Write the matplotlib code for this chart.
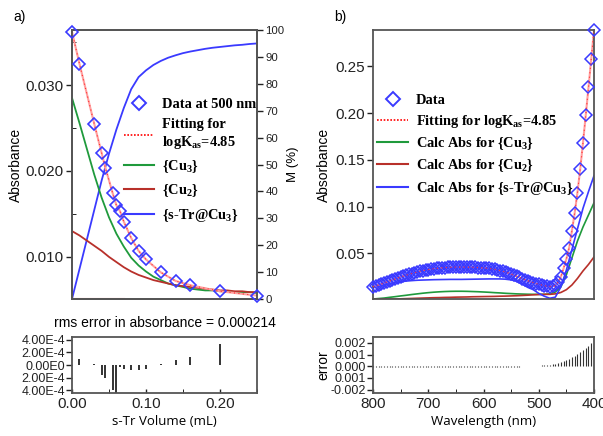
import numpy as np
import matplotlib
matplotlib.use("Agg")
import matplotlib.pyplot as plt
from matplotlib.lines import Line2D
from matplotlib.ticker import MultipleLocator, FixedLocator, FixedFormatter

# === Fonts ===
plt.rcParams['font.family'] = ['Liberation Sans', 'DejaVu Sans']
plt.rcParams['mathtext.fontset'] = 'custom'
plt.rcParams['mathtext.rm'] = 'Liberation Serif:bold'
plt.rcParams['mathtext.it'] = 'Liberation Serif:bold'
plt.rcParams['mathtext.bf'] = 'Liberation Serif:bold'

# === Titration data (panel a) ===
vol = [0.00, 0.01, 0.03, 0.04, 0.045, 0.055, 0.06, 0.065, 0.07, 0.08,
       0.09, 0.10, 0.12, 0.14, 0.16, 0.20, 0.25]
abs500 = [0.0362, 0.0325, 0.0255, 0.0221, 0.0204, 0.0174, 0.0160, 0.0153,
          0.0141, 0.0122, 0.0107, 0.0097, 0.0082, 0.0072, 0.0067, 0.0060, 0.0055]
resid500 = [0.0, 0.9e-4, 0.2e-4, -1.5e-4, -2.1e-4, -3.9e-4, -4.4e-4, -0.3e-4,
            -0.7e-4, -0.8e-4, -0.8e-4, -0.7e-4, 0.1e-4, 0.8e-4, 1.2e-4, 3.3e-4, 0.0]

vol_calc = [0.00, 0.01, 0.02, 0.03, 0.04, 0.05, 0.06, 0.07, 0.08, 0.09, 0.10,
            0.11, 0.12, 0.13, 0.14, 0.15, 0.16, 0.17, 0.18, 0.19, 0.20,
            0.21, 0.22, 0.23, 0.24, 0.25]
abs_cu3 = [0.0285, 0.0256, 0.0226, 0.0196, 0.0169, 0.0146, 0.0127, 0.0112,
           0.0099, 0.0090, 0.0083, 0.0077, 0.0073, 0.0069, 0.0067, 0.0065,
           0.0063, 0.0062, 0.0061, 0.0061, 0.0060, 0.0060, 0.0059, 0.0059,
           0.0059, 0.0058]
abs_cu2 = [0.0130, 0.0125, 0.0119, 0.0113, 0.0107, 0.0100, 0.0094, 0.0088,
           0.0083, 0.0079, 0.0076, 0.0073, 0.0071, 0.0069, 0.0067, 0.0066,
           0.0065, 0.0064, 0.0063, 0.0062, 0.0061, 0.0061, 0.0060, 0.0060,
           0.0059, 0.0059]
pct_complex = [0, 11, 22, 33, 44, 54, 63, 71, 78, 82.5, 85, 87, 88.5, 89.7,
               90.6, 91.4, 92, 92.5, 93, 93.4, 93.7, 94, 94.3, 94.5, 94.8, 95]
vol_free = [0.00, 0.07]
pct_free = [0, 0]

# === Spectral data (panel b), 800 -> 400 nm ===
wl = list(range(800, 395, -5))
abs_spec = [0.0142, 0.0150, 0.0160, 0.0170, 0.0181, 0.0192, 0.0203, 0.0214,
            0.0225, 0.0235, 0.0245, 0.0255, 0.0265, 0.0274, 0.0283, 0.0291,
            0.0299, 0.0306, 0.0313, 0.0319, 0.0325, 0.0330, 0.0334, 0.0338,
            0.0341, 0.0344, 0.0346, 0.0348, 0.0349, 0.0350, 0.0351, 0.0351,
            0.0351, 0.0351, 0.0350, 0.0350, 0.0349, 0.0348, 0.0347, 0.0345,
            0.0343, 0.0340, 0.0337, 0.0333, 0.0328, 0.0322, 0.0315, 0.0307,
            0.0298, 0.0288, 0.0277, 0.0265, 0.0253, 0.0241, 0.0229, 0.0217,
            0.0206, 0.0195, 0.0185, 0.0176, 0.0168, 0.0160, 0.0153, 0.0147,
            0.0143, 0.0145, 0.0155, 0.0190, 0.0246, 0.0340, 0.0440, 0.0560,
            0.0740, 0.0930, 0.1150, 0.1400, 0.1680, 0.1975, 0.2275, 0.2580,
            0.2890]
resid_spec = [-0.00005, -0.00006, -0.00004, -0.00007, -0.00005, -0.00006,
              -0.00004, -0.00005, -0.00006, -0.00004, -0.00005, -0.00006,
              -0.00005, -0.00004, -0.00006, -0.00005, -0.00004, -0.00005,
              -0.00006, -0.00004, -0.00005, -0.00006, -0.00004, -0.00005,
              -0.00006, -0.00005, -0.00004, -0.00006, -0.00005, -0.00004,
              -0.00005, -0.00006, -0.00007, -0.00006, -0.00005, -0.00006,
              -0.00007, -0.00006, -0.00005, -0.00006, -0.00007, -0.00006,
              -0.00005, -0.00006, -0.00005, -0.00004, -0.00005, -0.00004,
              -0.00004, -0.00004, -0.00003, -0.00003, -0.00003, -0.00003,
              -0.00002, -0.00002, -0.00002, 0.00002, 0.00002, 0.00003,
              0.00004, 0.00006, 0.00008, 0.00010, 0.00013, 0.00017,
              0.00022, 0.00028, 0.00035, 0.00044, 0.00053, 0.00064,
              0.00076, 0.00090, 0.00105, 0.00120, 0.00137, 0.00155,
              0.00175, 0.00195, 0.00215]

wl_calc = list(range(800, 395, -10))
calc_cu3 = [0.0010, 0.0015, 0.0020, 0.0028, 0.0035, 0.0043, 0.0050, 0.0058,
            0.0065, 0.0072, 0.0078, 0.0083, 0.0087, 0.0090, 0.0092, 0.0093,
            0.0093, 0.0092, 0.0090, 0.0088, 0.0085, 0.0082, 0.0078, 0.0075,
            0.0071, 0.0068, 0.0065, 0.0063, 0.0061, 0.0060, 0.0060, 0.0060,
            0.0065, 0.0085, 0.0140, 0.0270, 0.0450, 0.0630, 0.0780, 0.0910,
            0.1040]
calc_cu2 = [0.0005, 0.0006, 0.0008, 0.0009, 0.0010, 0.0012, 0.0014, 0.0016,
            0.0018, 0.0020, 0.0022, 0.0024, 0.0025, 0.0027, 0.0028, 0.0030,
            0.0031, 0.0032, 0.0034, 0.0035, 0.0036, 0.0037, 0.0038, 0.0040,
            0.0041, 0.0043, 0.0045, 0.0048, 0.0051, 0.0055, 0.0058, 0.0060,
            0.0060, 0.0065, 0.0080, 0.0110, 0.0160, 0.0230, 0.0310, 0.0380,
            0.0460]
calc_str = [0.0130, 0.0145, 0.0160, 0.0173, 0.0185, 0.0195, 0.0202, 0.0207,
            0.0211, 0.0213, 0.0215, 0.0217, 0.0218, 0.0219, 0.0220, 0.0220,
            0.0220, 0.0221, 0.0222, 0.0223, 0.0224, 0.0225, 0.0225, 0.0225,
            0.0222, 0.0215, 0.0200, 0.0170, 0.0135, 0.0110, 0.0070, 0.0040,
            0.0018, 0.0030, 0.0140, 0.0320, 0.0540, 0.0760, 0.0980, 0.1160,
            0.1330]

# === Styles ===
C_DATA = '#3a3aff'
C_FIT = '#ffa0a0'
C_CU3 = '#1f9a3c'
C_CU2 = '#b8302a'
C_STR = '#3a3aff'
C_FRAME = '#555555'
SERIF = 'Liberation Serif'
LEG_FONT = {'family': SERIF, 'weight': 'bold', 'size': 10.4}


def style_frame(ax):
    for s in ax.spines.values():
        s.set_color(C_FRAME)
        s.set_linewidth(1.3)
    ax.tick_params(colors='#222222', width=1.0)


def draw_resid(ax, x, r, lw):
    ax.vlines(x, 0, r, colors='#333333', linewidth=lw)


def legend_handles():
    return [
        Line2D([], [], ls='none', marker='D', ms=7.5, mfc='none', mec=C_DATA, mew=1.4),
        Line2D([], [], color='red', lw=1.2, ls=(0, (1, 1))),
        Line2D([], [], color=C_CU3, lw=1.5),
        Line2D([], [], color=C_CU2, lw=1.5),
        Line2D([], [], color=C_STR, lw=1.5),
    ]


fig = plt.figure(figsize=(6.03, 4.36), dpi=100)

# ---------------- panel a ----------------
axa = fig.add_axes([0.1194, 0.3142, 0.3068, 0.6170])
axa2 = axa.twinx()
axa.set_zorder(axa2.get_zorder() + 1)
axa.patch.set_visible(False)

axa2.plot(vol_calc, pct_complex, color=C_STR, lw=1.3)
axa2.plot(vol_free, pct_free, color='#ff6060', lw=1.5)
axa2.set_ylim(0, 100)
axa2.yaxis.set_major_locator(MultipleLocator(10))
axa2.tick_params(axis='y', labelsize=8.2, length=4, pad=2)
axa2.set_ylabel('M (%)', fontsize=9.5, labelpad=2)

axa.plot(vol_calc, abs_cu3, color=C_CU3, lw=1.3)
axa.plot(vol_calc, abs_cu2, color=C_CU2, lw=1.3)
axa.plot(vol, abs500, color=C_FIT, lw=1.5)
axa.plot(vol, abs500, color='#ff3030', lw=0.8, ls=(0, (1, 3)))
axa.plot(vol, abs500, ls='none', marker='D', ms=6.3, mfc='none',
         mec=C_DATA, mew=1.2, clip_on=False, zorder=5)
axa.set_xlim(0, 0.25)
axa.set_ylim(0.0051, 0.0364)
axa.yaxis.set_major_locator(FixedLocator([0.010, 0.020, 0.030]))
axa.yaxis.set_major_formatter(FixedFormatter(['0.010', '0.020', '0.030']))
axa.yaxis.set_minor_locator(FixedLocator([0.015, 0.025, 0.035]))
axa.tick_params(axis='y', which='major', labelsize=11, length=4, pad=2)
axa.tick_params(axis='y', which='minor', length=3, direction='in')
axa.set_xticks([])
axa.set_ylabel('Absorbance', fontsize=10, labelpad=2)
style_frame(axa)
style_frame(axa2)

lab_a = ['Data at 500 nm', 'Fitting for\nlogK$_{as}$=4.85',
         '{Cu$_3$}', '{Cu$_2$}', '{s-Tr@Cu$_3$}']
axa.legend(legend_handles(), lab_a, loc='upper left', bbox_to_anchor=(0.28, 0.748),
           frameon=False, handlelength=2.1, handletextpad=0.55,
           labelspacing=0.52, borderpad=0, borderaxespad=0, prop=LEG_FONT)

fig.text(0.022, 0.962, 'a)', fontsize=10, va='center')

# residuals a
axr = fig.add_axes([0.1194, 0.0986, 0.3068, 0.1284])
draw_resid(axr, vol, resid500, 1.4)
axr.set_xlim(0, 0.25)
axr.set_ylim(-4.4e-4, 4.4e-4)
axr.yaxis.set_major_locator(FixedLocator([4e-4, 2e-4, 0, -2e-4, -4e-4]))
axr.yaxis.set_major_formatter(FixedFormatter(
    ['4.00E-4', '2.00E-4', '0.00E0', '2.00E-4', '4.00E-4']))
axr.xaxis.set_major_locator(FixedLocator([0.0, 0.1, 0.2]))
axr.xaxis.set_major_formatter(FixedFormatter(['0.00', '0.10', '0.20']))
axr.xaxis.set_minor_locator(FixedLocator([0.05, 0.15, 0.25]))
axr.tick_params(axis='y', labelsize=9, length=4, pad=1)
axr.tick_params(axis='x', which='both', direction='in', labelsize=11, length=3, pad=3)
axr.set_xlabel('s-Tr Volume (mL)', family='Open Sans', fontsize=9.5, labelpad=3)
axr.set_title('rms error in absorbance = 0.000214', fontsize=10, pad=7)
style_frame(axr)

# ---------------- panel b ----------------
axb = fig.add_axes([0.6186, 0.3142, 0.3665, 0.6170])
axb.plot(wl_calc, calc_cu3, color=C_CU3, lw=1.2)
axb.plot(wl_calc, calc_cu2, color=C_CU2, lw=1.2)
axb.plot(wl_calc, calc_str, color=C_STR, lw=1.2)
axb.plot(wl, abs_spec, color=C_FIT, lw=1.5)
axb.plot(wl, abs_spec, ls='none', marker='D', ms=6.0, mfc='none',
         mec=C_DATA, mew=1.1, clip_on=False, zorder=5)
axb.plot(wl, abs_spec, color='#ff3030', lw=0.8, ls=(0, (1, 3)), zorder=6)
axb.set_xlim(800, 400)
axb.set_ylim(0.001, 0.289)
axb.yaxis.set_major_locator(FixedLocator([0.05, 0.10, 0.15, 0.20, 0.25]))
axb.yaxis.set_major_formatter(FixedFormatter(['0.05', '0.10', '0.15', '0.20', '0.25']))
axb.tick_params(axis='y', labelsize=11, length=4, pad=2)
axb.set_xticks([])
axb.set_ylabel('Absorbance', fontsize=10, labelpad=3)
style_frame(axb)

lab_b = ['Data', 'Fitting for logK$_{as}$=4.85', 'Calc Abs for {Cu$_3$}',
         'Calc Abs for {Cu$_2$}', 'Calc Abs for {s-Tr@Cu$_3$}']
axb.legend(legend_handles(), lab_b, loc='upper left', bbox_to_anchor=(0.02, 0.762),
           frameon=False, handlelength=2.1, handletextpad=0.55,
           labelspacing=0.38, borderpad=0, borderaxespad=0, prop=LEG_FONT)

fig.text(0.555, 0.962, 'b)', fontsize=10, va='center')

# residuals b
axbr = fig.add_axes([0.6186, 0.0986, 0.3665, 0.1284])
draw_resid(axbr, wl, resid_spec, 0.8)
axbr.set_xlim(800, 400)
axbr.set_ylim(-0.0023, 0.0025)
axbr.yaxis.set_major_locator(FixedLocator([0.002, 0.001, 0.0, -0.001, -0.002]))
axbr.yaxis.set_major_formatter(FixedFormatter(
    ['0.002', '0.001', '0.000', '0.001', '-0.002']))
axbr.xaxis.set_major_locator(FixedLocator([800, 700, 600, 500, 400]))
axbr.xaxis.set_minor_locator(FixedLocator([750, 650, 550, 450]))
axbr.tick_params(axis='y', labelsize=9, length=4, pad=1)
axbr.tick_params(axis='x', which='both', direction='in', labelsize=11, length=3, pad=3)
axbr.set_xlabel('Wavelength (nm)', family='Open Sans', fontsize=9.5, labelpad=3)
axbr.set_ylabel('error', fontsize=10, labelpad=0)
style_frame(axbr)

fig.savefig('out.png', dpi=100)
